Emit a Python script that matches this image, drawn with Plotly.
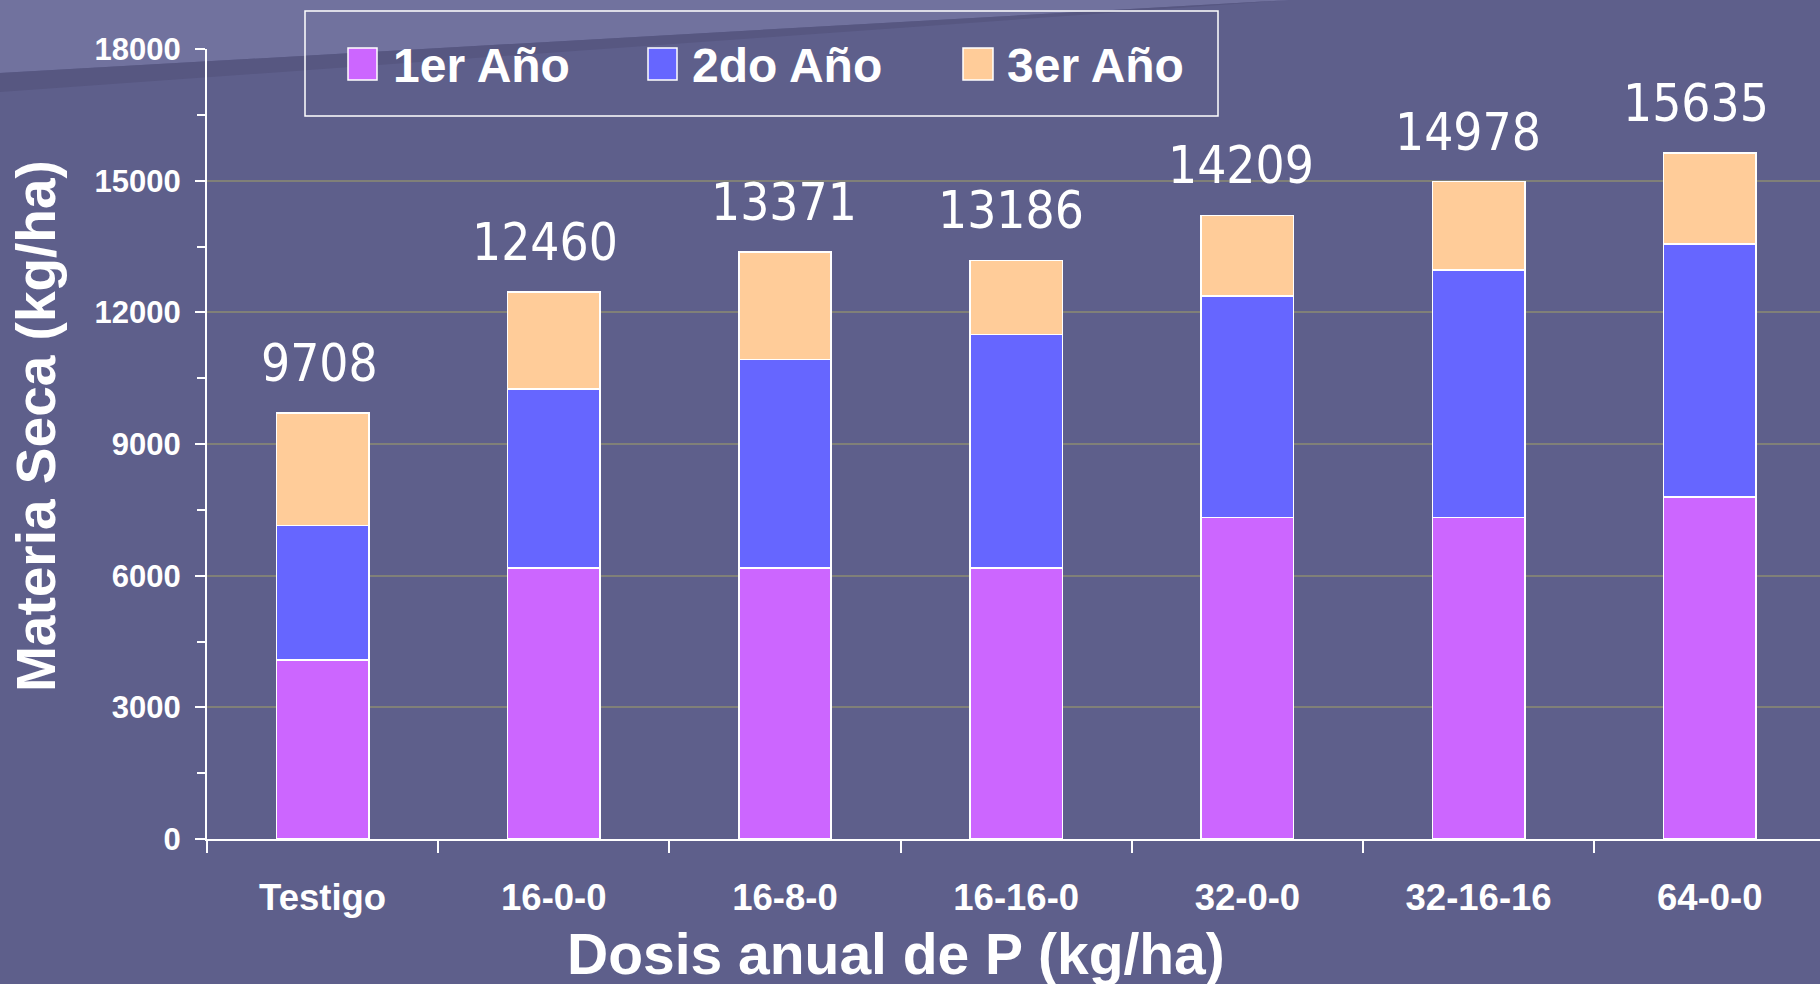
import plotly.graph_objects as go

# ---------------- data ----------------
categories = ["Testigo", "16-0-0", "16-8-0", "16-16-0", "32-0-0", "32-16-16", "64-0-0"]
year1 = [4080, 6180, 6180, 6180, 7330, 7330, 7790]
year2 = [3060, 4070, 4750, 5320, 5040, 5630, 5770]
year3 = [2568, 2210, 2441, 1686, 1839, 2018, 2075]
series_names = ["1er Año", "2do Año", "3er Año"]
series_colors = ["#CC66FF", "#6666FF", "#FFCC99"]
y_ticks = [0, 3000, 6000, 9000, 12000, 15000, 18000]

totals = [a + b + c for a, b, c in zip(year1, year2, year3)]

# label nudges in pixels (style, not data)
label_xshift = [-3, -9, -1, -5, -6, -11, -14]

# ---------------- geometry (pixels) ----------------
W, H = 1820, 984
L, T, B = 207, 49, 145
PW = W - L
PH = H - T - B
BG = "rgb(94,95,139)"
LIGHT = "rgb(113,114,158)"
BAND = "rgb(87,87,129)"


def px(x, y):
    return (x - L) / PW, (H - B - y) / PH


def path(points):
    pts = [px(x, y) for x, y in points]
    return "M " + " L ".join(f"{a:.5f},{b:.5f}" for a, b in pts) + " Z"


fig = go.Figure()
for name, vals, col in zip(series_names, [year1, year2, year3], series_colors):
    fig.add_trace(go.Bar(
        x=categories, y=vals, name=name, width=0.4,
        marker=dict(color=col, line=dict(color="white", width=1.5)),
        showlegend=False, hoverinfo="x+y+name",
    ))

label_font = dict(family="DejaVu Sans Condensed, Tahoma, Noto Sans", size=51, color="white")
annotations = []
for c, t, dx in zip(categories, totals, label_xshift):
    annotations.append(dict(x=c, y=t, xref="x", yref="y", text=str(t), showarrow=False,
                            yanchor="bottom", yshift=18, xshift=dx, font=label_font))

# axis titles
bold = dict(family="Liberation Sans, Arial, sans-serif", color="white", weight="bold")
x0, y0 = px(896, 954)
annotations.append(dict(x=x0, y=y0, xref="paper", yref="paper", text="Dosis anual de P (kg/ha)",
                        showarrow=False, xanchor="center", yanchor="middle",
                        font=dict(**bold, size=57)))
x1, y1 = px(36, 426)
annotations.append(dict(x=x1, y=y1, xref="paper", yref="paper", text="Materia Seca (kg/ha)",
                        showarrow=False, xanchor="center", yanchor="middle", textangle=-90,
                        font=dict(**bold, size=55)))

# custom legend
leg_items = [(348, 377, 391), (648, 677, 690), (963, 993, 1005)]
shapes = []
# background decoration
shapes.append(dict(type="path", xref="paper", yref="paper", layer="below",
                   path=path([(0, 0), (1290, 0), (0, 73)]), fillcolor=LIGHT, line=dict(width=0)))
shapes.append(dict(type="path", xref="paper", yref="paper", layer="below",
                   path=path([(0, 73), (1290, 0), (0, 92)]), fillcolor=BAND, line=dict(width=0)))
# legend box fill (hides grid line) + decoration inside it
shapes.append(dict(type="rect", xref="paper", yref="paper", layer="between",
                   x0=px(305, 0)[0], x1=px(1218, 0)[0], y0=px(0, 116)[1], y1=px(0, 11)[1],
                   fillcolor=BG, line=dict(width=0)))
shapes.append(dict(type="path", xref="paper", yref="paper", layer="between",
                   path=path([(305, 11), (1095.6, 11), (305, 55.7)]), fillcolor=LIGHT, line=dict(width=0)))
shapes.append(dict(type="path", xref="paper", yref="paper", layer="between",
                   path=path([(305, 55.7), (1095.6, 11), (1135.8, 11), (305, 70.2)]), fillcolor=BAND,
                   line=dict(width=0)))
shapes.append(dict(type="rect", xref="paper", yref="paper", layer="between",
                   x0=px(305, 0)[0], x1=px(1218, 0)[0], y0=px(0, 116)[1], y1=px(0, 11)[1],
                   line=dict(color="white", width=1.5)))
for (sx0, sx1, tx), name, col in zip(leg_items, series_names, series_colors):
    shapes.append(dict(type="rect", xref="paper", yref="paper", layer="above",
                       x0=px(sx0, 0)[0], x1=px(sx1, 0)[0], y0=px(0, 80)[1], y1=px(0, 48)[1],
                       fillcolor=col, line=dict(color="white", width=1.5)))
    tx0, ty0 = px(tx, 65)
    annotations.append(dict(x=tx0, y=ty0, xref="paper", yref="paper", text=name, showarrow=False,
                            xanchor="left", yanchor="middle", font=dict(**bold, size=48)))

fig.update_layout(
    width=W, height=H,
    margin=dict(l=L, r=0, t=T, b=B, pad=0),
    paper_bgcolor=BG, plot_bgcolor="rgba(0,0,0,0)",
    barmode="stack", bargap=0.6,
    shapes=shapes, annotations=annotations,
    showlegend=False,
    xaxis=dict(type="category", range=[-0.5, -0.5 + PW / 231.2], tickson="boundaries",
               ticks="outside", ticklen=12, tickwidth=1.5, tickcolor="white",
               showline=True, linecolor="white", linewidth=2, showgrid=False,
               ticklabelstandoff=25, tickfont=dict(**bold, size=36.5)),
    yaxis=dict(range=[0, 18000], tickvals=y_ticks, tickformat="d",
               ticks="outside", ticklen=10, tickwidth=1.5, tickcolor="white",
               showline=True, linecolor="white", linewidth=2,
               showgrid=True, gridcolor="rgb(128,128,120)", gridwidth=1.5, zeroline=False,
               minor=dict(dtick=1500, ticks="outside", ticklen=8, tickwidth=1.5, tickcolor="white",
                          showgrid=False),
               ticklabelstandoff=8, tickfont=dict(**bold, size=31)),
)

fig.write_html("out.html", config={"displayModeBar": False},
               post_script="document.body.style.margin='0';document.body.style.overflow='hidden';")
